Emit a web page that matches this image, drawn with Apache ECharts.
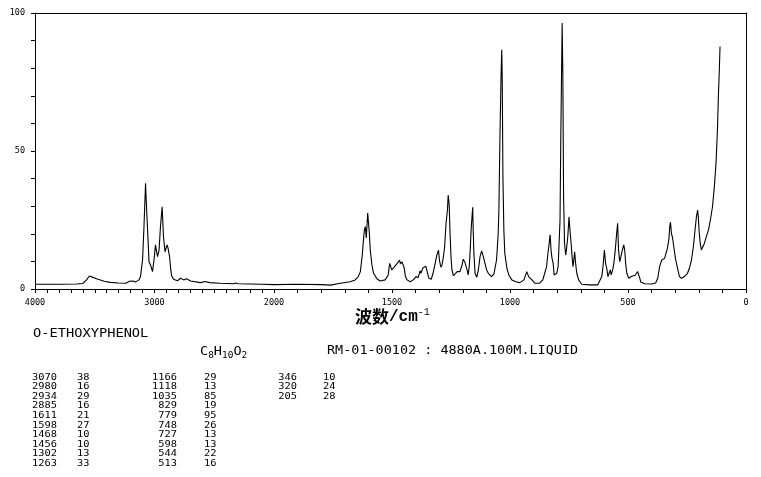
<!DOCTYPE html>
<html><head><meta charset="utf-8">
<script src="https://cdn.jsdelivr.net/npm/echarts@6/dist/echarts.min.js"></script>
<style>html,body{margin:0;padding:0;background:#fff}#c{width:761px;height:477px}</style>
</head><body><div id="c"></div>
<script>
// High wavenumber part (4000 -> 2000 cm-1, half scale)
const hiWn  = [4000,3800,3650,3600,3570,3545,3520,3480,3420,3370,3300,3240,3210,3195,3180,3160,3130,3117,3100,3088,3075,3063,3054,3046,3033,3017,3004,2992,2975,2962,2950,2936,2925,2912,2895,2887,2874,2866,2858,2841,2808,2782,2757,2732,2699,2615,2573,2540,2450,2340,2320,2300,2200,2100,2000];
const hiInt = [1.7,1.7,1.8,2.0,3.2,4.7,4.3,3.6,2.8,2.4,2.2,2.1,2.8,2.4,2.9,2.5,3.3,4.5,10.5,22.6,38.3,26,17.8,9.9,8.7,6.3,10.5,16,11.7,14,22.6,29.8,19,13.5,16,14.9,11.7,8,5,3.5,3.0,3.9,3.3,3.7,2.9,2.3,2.7,2.3,2.1,1.9,2.2,1.9,1.8,1.7,1.6];
// Low wavenumber part (2000 -> 0 cm-1)
const loWn  = [2000,1900,1800,1760,1719,1677,1656,1643,1634,1626,1622,1617,1613,1609,1603,1596,1592,1585,1578,1563,1550,1529,1516,1510,1508,1501,1497,1491,1484,1478,1474,1468,1464,1458,1453,1448,1443,1436,1423,1410,1398,1389,1381,1377,1370,1364,1357,1351,1344,1334,1326,1317,1310,1303,1299,1293,1288,1282,1277,1271,1265,1262,1258,1254,1250,1246,1240,1233,1224,1219,1212,1203,1198,1192,1186,1182,1177,1172,1168,1164,1158,1156,1153,1148,1141,1134,1127,1120,1113,1106,1099,1092,1085,1078,1068,1057,1050,1047,1043,1038,1035,1033,1030,1026,1022,1013,1005,992,975,958,941,929,921,916,907,895,874,861,853,845,840,834,830,826,822,817,813,807,802,796,792,788,785,782,779,776,773,769,764,761,755,750,746,741,737,733,729,726,722,717,709,696,662,628,620,611,606,600,595,590,585,580,575,571,565,560,554,548,544,540,535,530,524,518,514,510,505,497,486,470,459,450,446,430,400,383,374,366,357,353,345,340,333,327,323,320,316,311,306,299,290,282,273,261,248,240,231,223,216,210,205,202,199,194,189,185,176,168,159,151,142,134,127,121,117,113,110];
const loInt = [1.6,1.7,1.6,1.4,2.1,2.6,3.3,4.5,6.3,12.3,16.7,21.4,22.6,18.5,27.5,20.3,14.1,8.7,5.7,3.6,2.9,3.3,5.1,9.3,9.9,6.9,6.3,7.9,7.5,9.3,8.7,10.5,9.1,9.9,10.3,7.5,4.5,3.3,2.6,3.3,4.5,4.1,6.6,5.7,7.5,6.9,8.3,6.3,3.9,3.5,5.7,9.3,12.3,14.1,10.5,7.9,8.7,11.7,15.3,23.8,28.7,34,31,20.2,11.7,6.9,4.8,5.1,6.3,5.7,6.3,8.7,10.8,9.9,9.3,6.9,5.1,8.7,15.3,22.6,29.6,21.4,12.9,5.7,4.2,6.9,11.7,13.8,11.7,9.3,6.9,5.7,5.1,4.5,5.5,10.5,20.2,28.6,52.9,77,86.7,77,40.7,21.4,12.9,7.5,5.1,3.3,2.6,2.3,3.3,6.3,4.5,5.1,3.3,2.1,2.1,3.3,5.7,8.1,12.3,16.6,19.6,14.1,11.1,9.3,5.1,4.5,5.7,8.1,16.6,25,52.8,74.6,96.4,77,33.5,16.6,12.3,14.1,19,26.2,21.4,16.6,11.7,8.1,11.1,13.5,9.3,5.7,3.3,1.7,1.5,1.5,2.1,4.5,8.1,14.1,9.3,7.5,4.5,5.7,6.9,5.1,6.9,9.3,14.1,20.2,23.8,14.1,9.9,11.7,14.1,16,14.1,9.3,5.7,3.9,4.5,5.0,6.3,3.9,2.5,1.9,1.8,2.2,3.9,8.1,10.5,9.9,11.1,11.7,14.7,17.8,22.6,24.2,20.2,18.4,15.3,11.1,7.5,4.5,3.9,4.5,5.7,7.5,10.5,15.3,21.4,26.2,28.6,26.2,21.4,16.6,14.1,14.7,16.6,19,21.4,25,29.8,37.1,45.6,57.7,69.8,79.4,87.9];

// Peak table
const colAWn  = ['3070','2980','2934','2885','1611','1598','1468','1456','1302','1263'];
const colAInt = ['38','16','29','16','21','27','10','10','13','33'];
const colBWn  = ['1166','1118','1035','829','779','748','727','598','544','513'];
const colBInt = ['29','13','85','19','95','26','13','13','22','16'];
const colCWn  = ['346','320','205'];
const colCInt = ['10','24','28'];

const compoundName = 'O-ETHOXYPHENOL';
const sampleInfo = 'RM-01-00102 : 4880A.100M.LIQUID';
const axisTitleCn = '波数';
const axisTitleUnit = '/cm';

const hiData = hiWn.map((w, i) => [w, hiInt[i]]);
const loData = loWn.map((w, i) => [w, loInt[i]]);

const MONO = '"DejaVu Sans Mono"';
const black = '#000';
const plain = v => String(v);
const axisCommon = {
  type: 'value', splitLine: { show: false },
  axisLine: { show: true, onZero: false, lineStyle: { color: black, width: 1 } },
  axisTick: { show: true, length: 4, lineStyle: { color: black } },
  minorTick: { show: true, length: 4, lineStyle: { color: black } },
  axisLabel: { color: black, fontFamily: MONO, fontSize: 8.5, margin: 9, formatter: plain }
};
const frameAxis = {
  type: 'value', splitLine: { show: false },
  axisLine: { show: true, onZero: false, lineStyle: { color: black, width: 1 } },
  axisTick: { show: false }, axisLabel: { show: false }, minorTick: { show: false }
};

const chart = echarts.init(document.getElementById('c'), null, { renderer: 'canvas' });
chart.setOption({
  animation: false,
  backgroundColor: '#fff',
  grid: [
    { left: 35, top: 13, width: 239, height: 276, containLabel: false, outerBoundsMode: 'none' },
    { left: 274, top: 13, width: 472, height: 276, containLabel: false, outerBoundsMode: 'none' }
  ],
  xAxis: [
    Object.assign({}, axisCommon, { gridIndex: 0, min: 2000, max: 4000, interval: 1000, inverse: true, position: 'bottom',
      minorTick: Object.assign({}, axisCommon.minorTick, { splitNumber: 10 }) }),
    Object.assign({}, axisCommon, { gridIndex: 1, min: 0, max: 2000, interval: 500, inverse: true, position: 'bottom',
      minorTick: Object.assign({}, axisCommon.minorTick, { splitNumber: 5 }),
      axisLabel: Object.assign({}, axisCommon.axisLabel, { showMaxLabel: false }) }),
    Object.assign({}, frameAxis, { gridIndex: 0, min: 2000, max: 4000, inverse: true, position: 'top' }),
    Object.assign({}, frameAxis, { gridIndex: 1, min: 0, max: 2000, inverse: true, position: 'top' })
  ],
  yAxis: [
    Object.assign({}, axisCommon, { gridIndex: 0, min: 0, max: 100, interval: 50, position: 'left',
      minorTick: Object.assign({}, axisCommon.minorTick, { splitNumber: 5 }),
      axisLabel: Object.assign({}, axisCommon.axisLabel, { margin: 10 }) }),
    Object.assign({}, frameAxis, { gridIndex: 1, min: 0, max: 100, position: 'right' })
  ],
  series: [
    { type: 'line', xAxisIndex: 0, yAxisIndex: 0, data: hiData, symbol: 'none', showSymbol: false, silent: true,
      lineStyle: { color: black, width: 1.1 } },
    { type: 'line', xAxisIndex: 1, yAxisIndex: 1, data: loData, symbol: 'none', showSymbol: false, silent: true,
      lineStyle: { color: black, width: 1.1 } }
  ],
  graphic: [
    { type: 'text', x: 355, y: 317, silent: true,
      style: { text: '{a|' + axisTitleCn + '}{b|' + axisTitleUnit + '}{c|-1}', textVerticalAlign: 'middle',
        rich: {
          a: { fontFamily: '"Noto Sans CJK SC"', fontSize: 17, lineHeight: 20, fill: black, fontWeight: 'bold' },
          b: { fontFamily: '"Liberation Mono"', fontSize: 16, lineHeight: 20, fill: black, fontWeight: 'bold' },
          c: { fontFamily: '"Liberation Mono"', fontSize: 10, lineHeight: 10, fill: black, verticalAlign: 'top' }
        } } },
    { type: 'text', x: 33, y: 334, scaleX: 1.19, silent: true,
      style: { text: compoundName, font: '11.5px ' + MONO, fill: black, textVerticalAlign: 'middle' } },
    { type: 'text', x: 200, y: 352, scaleX: 1.18, silent: true,
      style: { text: '{n|C}{s|8}{n|H}{s|10}{n|O}{s|2}', textVerticalAlign: 'middle',
        rich: {
          n: { fontFamily: MONO, fontSize: 11.5, lineHeight: 16, fill: black },
          s: { fontFamily: MONO, fontSize: 8, lineHeight: 8, fill: black, verticalAlign: 'bottom' }
        } } },
    { type: 'text', x: 327, y: 351, scaleX: 1.17, silent: true,
      style: { text: sampleInfo, font: '11.5px ' + MONO, fill: black, textVerticalAlign: 'middle' } },
    { type: 'text', x: 32, y: 372.5, scaleX: 1.22, silent: true,
      style: { text: colAWn.join('\n'), font: '8.5px ' + MONO, lineHeight: 9.6, fill: black, textVerticalAlign: 'top' } },
    { type: 'text', x: 77, y: 372.5, scaleX: 1.22, silent: true,
      style: { text: colAInt.join('\n'), font: '8.5px ' + MONO, lineHeight: 9.6, fill: black, textVerticalAlign: 'top' } },
    { type: 'text', x: 177, y: 372.5, scaleX: 1.22, silent: true,
      style: { text: colBWn.join('\n'), font: '8.5px ' + MONO, lineHeight: 9.6, fill: black, textAlign: 'right', textVerticalAlign: 'top' } },
    { type: 'text', x: 204, y: 372.5, scaleX: 1.22, silent: true,
      style: { text: colBInt.join('\n'), font: '8.5px ' + MONO, lineHeight: 9.6, fill: black, textVerticalAlign: 'top' } },
    { type: 'text', x: 297, y: 372.5, scaleX: 1.22, silent: true,
      style: { text: colCWn.join('\n'), font: '8.5px ' + MONO, lineHeight: 9.6, fill: black, textAlign: 'right', textVerticalAlign: 'top' } },
    { type: 'text', x: 323, y: 372.5, scaleX: 1.22, silent: true,
      style: { text: colCInt.join('\n'), font: '8.5px ' + MONO, lineHeight: 9.6, fill: black, textVerticalAlign: 'top' } }
  ]
});
</script></body></html>
